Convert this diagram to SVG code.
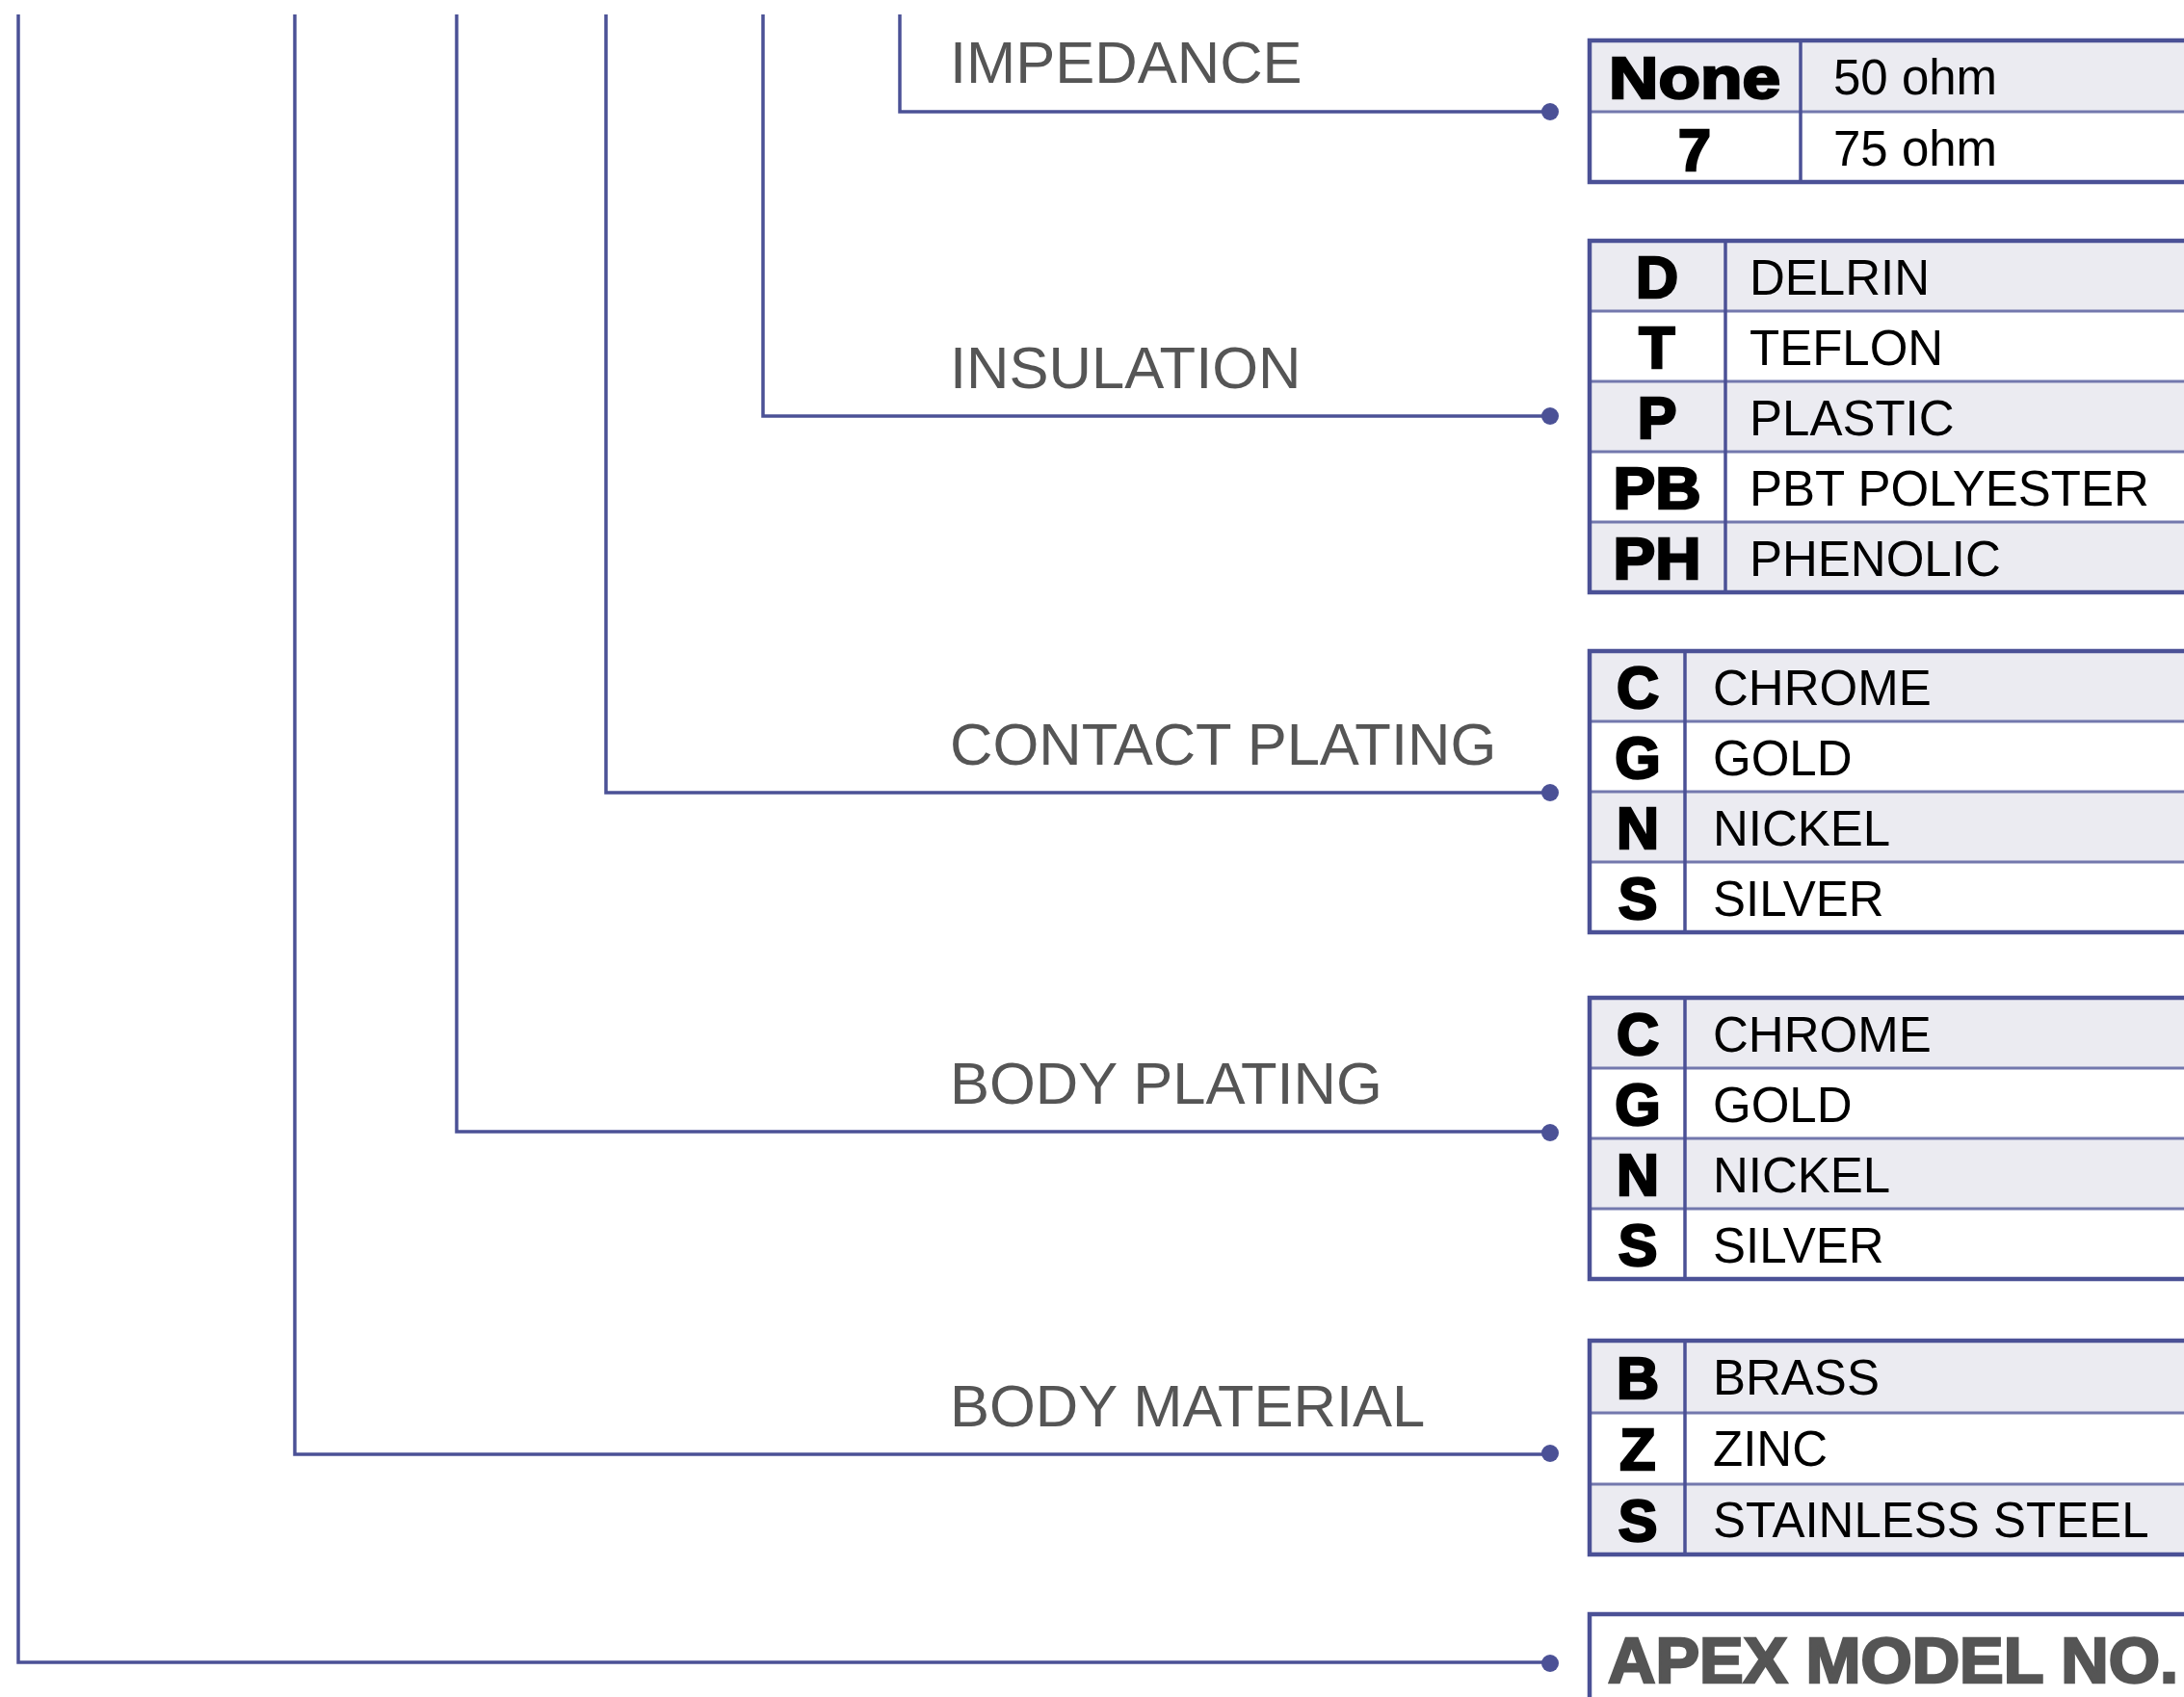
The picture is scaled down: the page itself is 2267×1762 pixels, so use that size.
<svg xmlns="http://www.w3.org/2000/svg" width="2267" height="1762" viewBox="0 0 2267 1762">
<defs>
<style>
.bg{fill:#ffffff}
.wire{fill:none;stroke:#4b5196;stroke-width:3.5}
.dot{fill:#4b5196}
.lbl{font-family:"Liberation Sans",Arial,sans-serif;font-size:61.5px;fill:#555555}
.frame{fill:none;stroke:#4b5196;stroke-width:4.5}
.col{stroke:#4b5196;stroke-width:3.5}
.row{stroke:#7378ad;stroke-width:3}
.shade{fill:#ebebf1}
.code{font-family:"Liberation Sans",Arial,sans-serif;font-weight:bold;font-size:61px;fill:#000000;stroke:#000000;stroke-width:2.5;text-anchor:middle}
.val{font-family:"Liberation Sans",Arial,sans-serif;font-size:51px;fill:#000000}
.apex{font-family:"Liberation Sans",Arial,sans-serif;font-weight:bold;font-size:66px;fill:#555555;stroke:#555555;stroke-width:2.5}
</style>
</defs>
<rect class="bg" x="0" y="0" width="2267" height="1762"/>

<g id="connectors">
<path class="wire" d="M934 15 V116 H1609"/>
<path class="wire" d="M792 15 V432 H1609"/>
<path class="wire" d="M629 15 V823 H1609"/>
<path class="wire" d="M474 15 V1175 H1609"/>
<path class="wire" d="M306 15 V1510 H1609"/>
<path class="wire" d="M19 15 V1726 H1609"/>
<circle class="dot" cx="1609" cy="116" r="9"/>
<circle class="dot" cx="1609" cy="432" r="9"/>
<circle class="dot" cx="1609" cy="823" r="9"/>
<circle class="dot" cx="1609" cy="1176" r="9"/>
<circle class="dot" cx="1609" cy="1509" r="9"/>
<circle class="dot" cx="1609" cy="1727" r="9"/>
</g>

<g id="labels">
<text class="lbl" x="986" y="86">IMPEDANCE</text>
<text class="lbl" x="986" y="403">INSULATION</text>
<text class="lbl" x="986" y="794">CONTACT PLATING</text>
<text class="lbl" x="986" y="1146">BODY PLATING</text>
<text class="lbl" x="986" y="1481">BODY MATERIAL</text>
</g>

<g id="table-impedance">
<rect class="shade" x="1650" y="42" width="640" height="74"/>
<line class="row" x1="1650" y1="116" x2="2290" y2="116"/>
<line class="col" x1="1869" y1="42" x2="1869" y2="189"/>
<rect class="frame" x="1650" y="42" width="640" height="147"/>
<text class="code" x="1759" y="102" textLength="178" lengthAdjust="spacingAndGlyphs">None</text>
<text class="code" x="1759" y="177">7</text>
<text class="val" x="1903" y="98">50 ohm</text>
<text class="val" x="1903" y="172">75 ohm</text>
</g>

<g id="table-insulation">
<rect class="shade" x="1650" y="250" width="640" height="73"/>
<rect class="shade" x="1650" y="396" width="640" height="73"/>
<rect class="shade" x="1650" y="542" width="640" height="73"/>
<line class="row" x1="1650" y1="323" x2="2290" y2="323"/>
<line class="row" x1="1650" y1="396" x2="2290" y2="396"/>
<line class="row" x1="1650" y1="469" x2="2290" y2="469"/>
<line class="row" x1="1650" y1="542" x2="2290" y2="542"/>
<line class="col" x1="1791" y1="250" x2="1791" y2="615"/>
<rect class="frame" x="1650" y="250" width="640" height="365"/>
<text class="code" x="1720" y="309">D</text>
<text class="code" x="1720" y="382">T</text>
<text class="code" x="1720" y="455">P</text>
<text class="code" x="1720" y="528" textLength="91" lengthAdjust="spacingAndGlyphs">PB</text>
<text class="code" x="1720" y="601" textLength="91" lengthAdjust="spacingAndGlyphs">PH</text>
<text class="val" x="1816" y="306">DELRIN</text>
<text class="val" x="1816" y="379">TEFLON</text>
<text class="val" x="1816" y="452">PLASTIC</text>
<text class="val" x="1816" y="525">PBT POLYESTER</text>
<text class="val" x="1816" y="598">PHENOLIC</text>
</g>

<g id="table-contact-plating">
<rect class="shade" x="1650" y="676" width="640" height="73"/>
<rect class="shade" x="1650" y="822" width="640" height="73"/>
<line class="row" x1="1650" y1="749" x2="2290" y2="749"/>
<line class="row" x1="1650" y1="822" x2="2290" y2="822"/>
<line class="row" x1="1650" y1="895" x2="2290" y2="895"/>
<line class="col" x1="1749" y1="676" x2="1749" y2="968"/>
<rect class="frame" x="1650" y="676" width="640" height="292"/>
<text class="code" x="1700" y="735">C</text>
<text class="code" x="1700" y="808">G</text>
<text class="code" x="1700" y="881">N</text>
<text class="code" x="1700" y="954">S</text>
<text class="val" x="1778" y="732">CHROME</text>
<text class="val" x="1778" y="805">GOLD</text>
<text class="val" x="1778" y="878">NICKEL</text>
<text class="val" x="1778" y="951">SILVER</text>
</g>

<g id="table-body-plating">
<rect class="shade" x="1650" y="1036" width="640" height="73"/>
<rect class="shade" x="1650" y="1182" width="640" height="73"/>
<line class="row" x1="1650" y1="1109" x2="2290" y2="1109"/>
<line class="row" x1="1650" y1="1182" x2="2290" y2="1182"/>
<line class="row" x1="1650" y1="1255" x2="2290" y2="1255"/>
<line class="col" x1="1749" y1="1036" x2="1749" y2="1328"/>
<rect class="frame" x="1650" y="1036" width="640" height="292"/>
<text class="code" x="1700" y="1095">C</text>
<text class="code" x="1700" y="1168">G</text>
<text class="code" x="1700" y="1241">N</text>
<text class="code" x="1700" y="1314">S</text>
<text class="val" x="1778" y="1092">CHROME</text>
<text class="val" x="1778" y="1165">GOLD</text>
<text class="val" x="1778" y="1238">NICKEL</text>
<text class="val" x="1778" y="1311">SILVER</text>
</g>

<g id="table-body-material">
<rect class="shade" x="1650" y="1392" width="640" height="75"/>
<rect class="shade" x="1650" y="1541" width="640" height="73"/>
<line class="row" x1="1650" y1="1467" x2="2290" y2="1467"/>
<line class="row" x1="1650" y1="1541" x2="2290" y2="1541"/>
<line class="col" x1="1749" y1="1392" x2="1749" y2="1614"/>
<rect class="frame" x="1650" y="1392" width="640" height="222"/>
<text class="code" x="1700" y="1452">B</text>
<text class="code" x="1700" y="1526">Z</text>
<text class="code" x="1700" y="1600">S</text>
<text class="val" x="1778" y="1448">BRASS</text>
<text class="val" x="1778" y="1522">ZINC</text>
<text class="val" x="1778" y="1596">STAINLESS STEEL</text>
</g>

<g id="apex-model">
<rect class="frame" x="1650" y="1676" width="640" height="140"/>
<text class="apex" x="1669" y="1747" textLength="592" lengthAdjust="spacingAndGlyphs">APEX MODEL NO.</text>
</g>
</svg>
